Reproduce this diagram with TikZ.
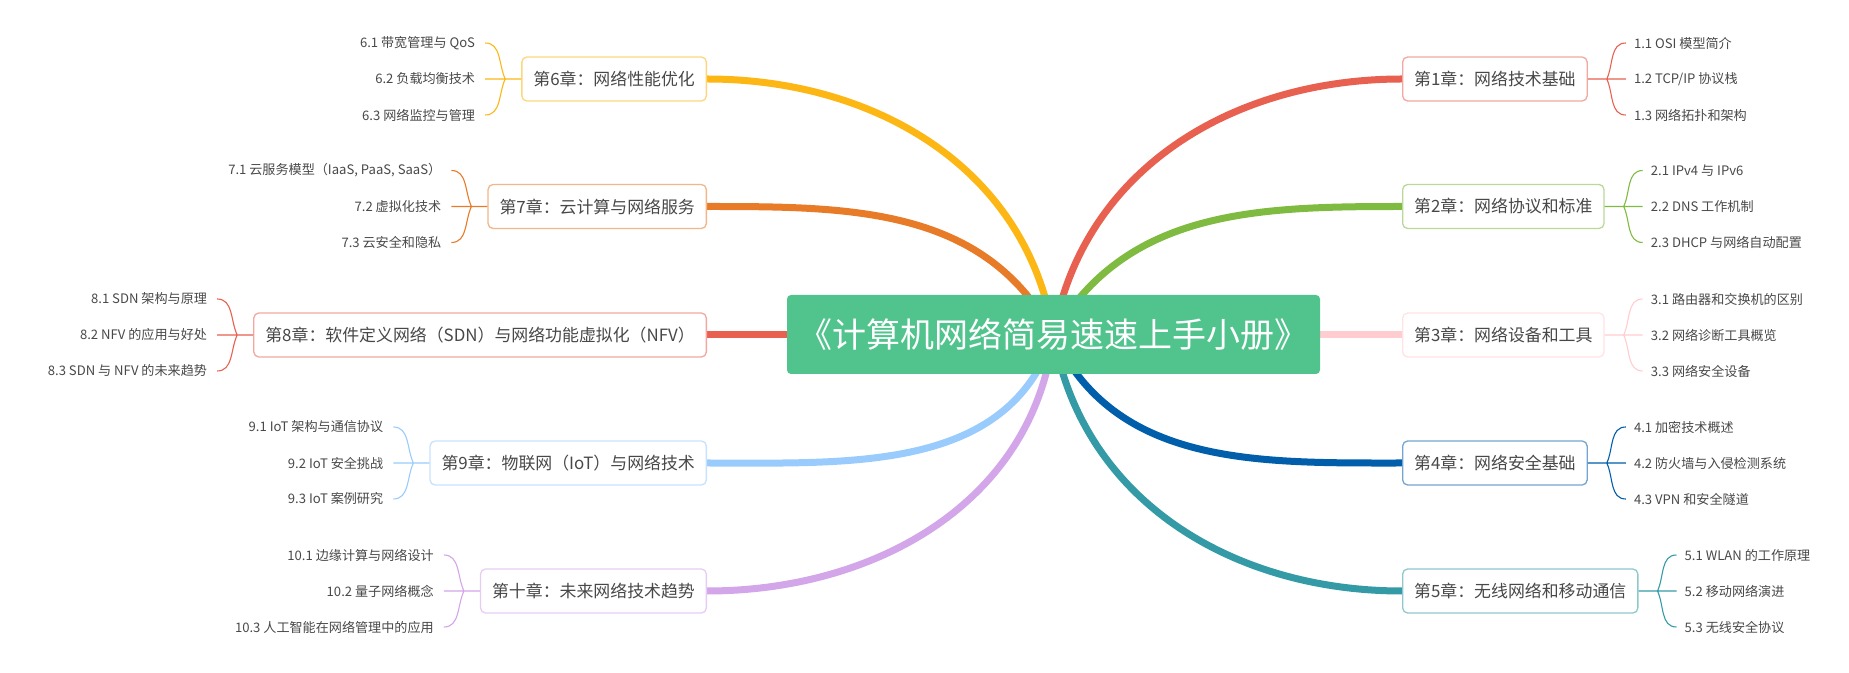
\documentclass[tikz,border=0pt]{standalone}
\usepackage{fontspec}
\setmainfont{Noto Sans CJK SC}
\usepackage{tikz}
\usetikzlibrary{positioning,backgrounds}
\definecolor{rootgreen}{RGB}{81,196,142}
\definecolor{textgray}{RGB}{72,72,72}
\definecolor{chone}{RGB}{232,96,80}
\definecolor{chtwo}{RGB}{127,186,65}
\definecolor{chthree}{RGB}{255,204,207}
\definecolor{chfour}{RGB}{0,94,170}
\definecolor{chfive}{RGB}{52,155,166}
\definecolor{chsix}{RGB}{252,183,21}
\definecolor{chseven}{RGB}{232,123,40}
\definecolor{cheight}{RGB}{232,96,80}
\definecolor{chnine}{RGB}{153,203,252}
\definecolor{chten}{RGB}{211,165,233}

\begin{document}
\begin{tikzpicture}[x=1pt, y=1pt,
  root/.style={rectangle,rounded corners=4pt,fill=rootgreen,text=white,minimum width=533pt,minimum height=79pt,font=\fontsize{34}{40}\selectfont},
  chapter/.style={rectangle,rounded corners=5pt,draw=#1!55,fill=white,line width=1.3pt,text=textgray,minimum height=44pt,inner xsep=11.5pt,font=\fontsize{16.9}{20}\selectfont},
  topic/.style={inner sep=0pt,text=textgray,font=\fontsize{13.1}{15}\selectfont},
  branch/.style={line width=7pt,draw=#1},
  subline/.style={line width=1.1pt,draw=#1}]
  \useasboundingbox (0,0) rectangle (1849,672);

  % centre
  \node[root] (root) at (1053.5,337.5) {《计算机网络简易速速上手小册》};
  \coordinate (hub) at (1053.5,337);

  % right side
  \node[chapter=chone,anchor=west] (ch1) at (1402,593) {第1章：网络技术基础};
  \node[topic,right=46pt of ch1,yshift=36pt] (s11) {1.1 OSI 模型简介};
  \node[topic,right=46pt of ch1] (s12) {1.2 TCP/IP 协议栈};
  \node[topic,right=46pt of ch1,yshift=-36pt] (s13) {1.3 网络拓扑和架构};

  \node[chapter=chtwo,anchor=west] (ch2) at (1402,465.5) {第2章：网络协议和标准};
  \node[topic,right=46pt of ch2,yshift=36pt] (s21) {2.1 IPv4 与 IPv6};
  \node[topic,right=46pt of ch2] (s22) {2.2 DNS 工作机制};
  \node[topic,right=46pt of ch2,yshift=-36pt] (s23) {2.3 DHCP 与网络自动配置};

  \node[chapter=chthree,anchor=west] (ch3) at (1402,337) {第3章：网络设备和工具};
  \node[topic,right=46pt of ch3,yshift=36pt] (s31) {3.1 路由器和交换机的区别};
  \node[topic,right=46pt of ch3] (s32) {3.2 网络诊断工具概览};
  \node[topic,right=46pt of ch3,yshift=-36pt] (s33) {3.3 网络安全设备};

  \node[chapter=chfour,anchor=west] (ch4) at (1402,209) {第4章：网络安全基础};
  \node[topic,right=46pt of ch4,yshift=36pt] (s41) {4.1 加密技术概述};
  \node[topic,right=46pt of ch4] (s42) {4.2 防火墙与入侵检测系统};
  \node[topic,right=46pt of ch4,yshift=-36pt] (s43) {4.3 VPN 和安全隧道};

  \node[chapter=chfive,anchor=west] (ch5) at (1402,81) {第5章：无线网络和移动通信};
  \node[topic,right=46pt of ch5,yshift=36pt] (s51) {5.1 WLAN 的工作原理};
  \node[topic,right=46pt of ch5] (s52) {5.2 移动网络演进};
  \node[topic,right=46pt of ch5,yshift=-36pt] (s53) {5.3 无线安全协议};

  % left side
  \node[chapter=chsix,anchor=east] (ch6) at (707,593) {第6章：网络性能优化};
  \node[topic,left=46pt of ch6,yshift=36pt] (s61) {6.1 带宽管理与 QoS};
  \node[topic,left=46pt of ch6] (s62) {6.2 负载均衡技术};
  \node[topic,left=46pt of ch6,yshift=-36pt] (s63) {6.3 网络监控与管理};

  \node[chapter=chseven,anchor=east] (ch7) at (707,465.5) {第7章：云计算与网络服务};
  \node[topic,left=46pt of ch7,yshift=36pt] (s71) {7.1 云服务模型（IaaS, PaaS, SaaS）};
  \node[topic,left=46pt of ch7] (s72) {7.2 虚拟化技术};
  \node[topic,left=46pt of ch7,yshift=-36pt] (s73) {7.3 云安全和隐私};

  \node[chapter=cheight,anchor=east] (ch8) at (707,337) {第8章：软件定义网络（SDN）与网络功能虚拟化（NFV）};
  \node[topic,left=46pt of ch8,yshift=36pt] (s81) {8.1 SDN 架构与原理};
  \node[topic,left=46pt of ch8] (s82) {8.2 NFV 的应用与好处};
  \node[topic,left=46pt of ch8,yshift=-36pt] (s83) {8.3 SDN 与 NFV 的未来趋势};

  \node[chapter=chnine,anchor=east] (ch9) at (707,209) {第9章：物联网（IoT）与网络技术};
  \node[topic,left=46pt of ch9,yshift=36pt] (s91) {9.1 IoT 架构与通信协议};
  \node[topic,left=46pt of ch9] (s92) {9.2 IoT 安全挑战};
  \node[topic,left=46pt of ch9,yshift=-36pt] (s93) {9.3 IoT 案例研究};

  \node[chapter=chten,anchor=east] (ch10) at (707,81) {第十章：未来网络技术趋势};
  \node[topic,left=46pt of ch10,yshift=36pt] (s101) {10.1 边缘计算与网络设计};
  \node[topic,left=46pt of ch10] (s102) {10.2 量子网络概念};
  \node[topic,left=46pt of ch10,yshift=-36pt] (s103) {10.3 人工智能在网络管理中的应用};

  % main branches
  \begin{scope}[on background layer]
    \draw[branch=chone] (hub) to[out=80,in=180] (ch1.west);
    \draw[branch=chtwo] (hub) to[out=60,in=180] (ch2.west);
    \draw[branch=chthree] (hub) -- (ch3.west);
    \draw[branch=chfour] (hub) to[out=-65,in=180] (ch4.west);
    \draw[branch=chfive] (hub) to[out=-80,in=180] (ch5.west);
    \draw[branch=chsix] (hub) to[out=99,in=0] (ch6.east);
    \draw[branch=chseven] (hub) to[out=118,in=0] (ch7.east);
    \draw[branch=cheight] (hub) -- (ch8.east);
    \draw[branch=chnine] (hub) to[out=-108,in=0] (ch9.east);
    \draw[branch=chten] (hub) to[out=-97,in=0] (ch10.east);
  \end{scope}

  % braces to the sections
  \draw[subline=chone] (ch1.east) -- ++(19pt,0) coordinate (b1) -- ([xshift=-8pt]s12.west)
    (b1) to[out=65,in=180] ([xshift=-8pt]s11.west)
    (b1) to[out=-65,in=180] ([xshift=-8pt]s13.west);
  \draw[subline=chtwo] (ch2.east) -- ++(19pt,0) coordinate (b2) -- ([xshift=-8pt]s22.west)
    (b2) to[out=65,in=180] ([xshift=-8pt]s21.west)
    (b2) to[out=-65,in=180] ([xshift=-8pt]s23.west);
  \draw[subline=chthree] (ch3.east) -- ++(19pt,0) coordinate (b3) -- ([xshift=-8pt]s32.west)
    (b3) to[out=65,in=180] ([xshift=-8pt]s31.west)
    (b3) to[out=-65,in=180] ([xshift=-8pt]s33.west);
  \draw[subline=chfour] (ch4.east) -- ++(19pt,0) coordinate (b4) -- ([xshift=-8pt]s42.west)
    (b4) to[out=65,in=180] ([xshift=-8pt]s41.west)
    (b4) to[out=-65,in=180] ([xshift=-8pt]s43.west);
  \draw[subline=chfive] (ch5.east) -- ++(19pt,0) coordinate (b5) -- ([xshift=-8pt]s52.west)
    (b5) to[out=65,in=180] ([xshift=-8pt]s51.west)
    (b5) to[out=-65,in=180] ([xshift=-8pt]s53.west);
  \draw[subline=chsix] (ch6.west) -- ++(-16pt,0) coordinate (b6) -- ([xshift=10pt]s62.east)
    (b6) to[out=115,in=0] ([xshift=10pt]s61.east)
    (b6) to[out=-115,in=0] ([xshift=10pt]s63.east);
  \draw[subline=chseven] (ch7.west) -- ++(-16pt,0) coordinate (b7) -- ([xshift=10pt]s72.east)
    (b7) to[out=115,in=0] ([xshift=10pt]s71.east)
    (b7) to[out=-115,in=0] ([xshift=10pt]s73.east);
  \draw[subline=cheight] (ch8.west) -- ++(-16pt,0) coordinate (b8) -- ([xshift=10pt]s82.east)
    (b8) to[out=115,in=0] ([xshift=10pt]s81.east)
    (b8) to[out=-115,in=0] ([xshift=10pt]s83.east);
  \draw[subline=chnine] (ch9.west) -- ++(-16pt,0) coordinate (b9) -- ([xshift=10pt]s92.east)
    (b9) to[out=115,in=0] ([xshift=10pt]s91.east)
    (b9) to[out=-115,in=0] ([xshift=10pt]s93.east);
  \draw[subline=chten] (ch10.west) -- ++(-16pt,0) coordinate (b10) -- ([xshift=10pt]s102.east)
    (b10) to[out=115,in=0] ([xshift=10pt]s101.east)
    (b10) to[out=-115,in=0] ([xshift=10pt]s103.east);
\end{tikzpicture}
\end{document}
